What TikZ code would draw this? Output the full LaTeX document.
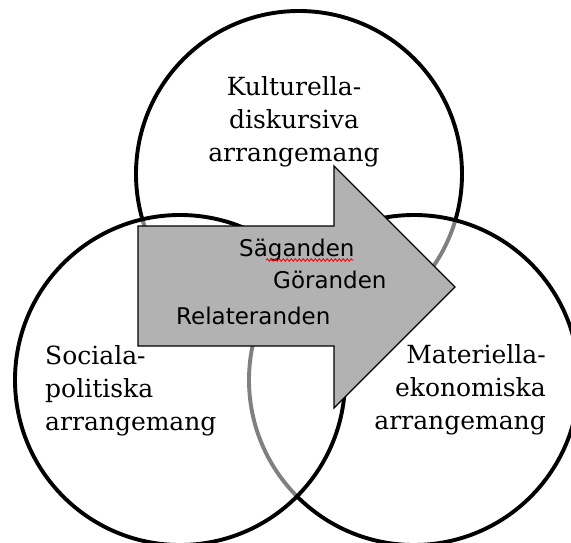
\documentclass[tikz,border=0pt]{standalone}
\usepackage{fontspec}
\setmainfont{DejaVu Serif}
\newfontfamily\flowfont{DejaVu Sans}
\usetikzlibrary{decorations.pathmorphing}

\begin{document}
\begin{tikzpicture}[x=1pt,y=-1pt,
  ring/.style={draw, circle, line width=3.9pt, fill=white, fill opacity=0.5,
    minimum size=330pt, inner sep=0pt},
  area/.style={font=\fontsize{25}{33}\selectfont, inner sep=0pt},
  doing/.style={font=\flowfont\fontsize{23}{28}\selectfont, anchor=base west, inner sep=0pt}]
\useasboundingbox (0,0) rectangle (571,543);
% the three arrangements
\node[ring, minimum size=326pt] (kultur) at (299,174) {};
\node[ring] (materiell) at (414,380) {};
\node[ring] (social) at (180,380) {};
\node[area, align=center, anchor=base] (kulturtext) at (294,161)
{Kulturella-\\diskursiva\\arrangemang};
\node[area, align=left, anchor=base west] (socialtext) at (45,430)
{Sociala-\\politiska\\arrangemang};
\node[area, align=right, anchor=base east] (materielltext) at (546,429)
{Materiella-\\ekonomiska\\arrangemang};
% the practices
\filldraw[line width=1.4pt, fill=gray!60] (138,226) -- (334,226) -- (334,166) -- (455,287)
-- (334,408) -- (334,346) -- (138,346) -- cycle;
\node[doing] (sag) at (239,256) {Säganden};
\node[doing] (gor) at (273,288) {Göranden};
\node[doing] (rel) at (176,324) {Relateranden};
\draw[red, line width=0.9pt, decorate, decoration={snake, amplitude=1.2pt, segment length=4pt}]
([xshift=27pt, yshift=-4pt]sag.base west) -- ([xshift=-1pt, yshift=-4pt]sag.base east);
\end{tikzpicture}
\end{document}
